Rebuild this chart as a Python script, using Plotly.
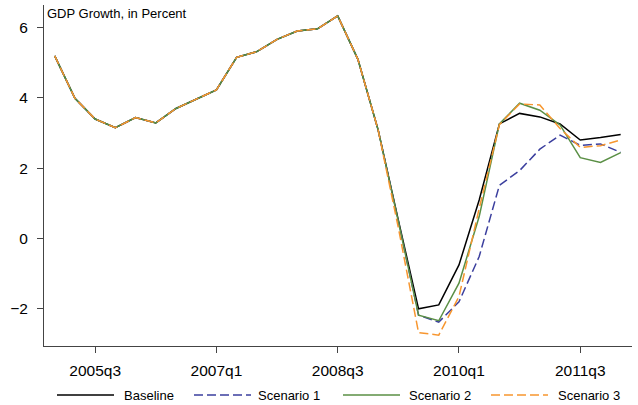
import plotly.graph_objects as go

quarters = [
    "2005q1", "2005q2", "2005q3", "2005q4",
    "2006q1", "2006q2", "2006q3", "2006q4",
    "2007q1", "2007q2", "2007q3", "2007q4",
    "2008q1", "2008q2", "2008q3", "2008q4",
    "2009q1", "2009q2", "2009q3", "2009q4",
    "2010q1", "2010q2", "2010q3", "2010q4",
    "2011q1", "2011q2", "2011q3", "2011q4",
    "2012q1",
]

common = [5.20, 3.99, 3.40, 3.15, 3.44, 3.29, 3.70, 3.97, 4.23, 5.16,
          5.32, 5.67, 5.91, 5.97, 6.34, 5.10, 3.09]

baseline = common + [0.52, -2.01, -1.90, -0.76, 1.09, 3.26, 3.56, 3.46, 3.26, 2.80, 2.87, 2.96]
scenario1 = common + [0.48, -2.19, -2.39, -1.81, -0.52, 1.51, 1.93, 2.54, 2.94, 2.65, 2.69, 2.45]
scenario2 = common + [0.48, -2.19, -2.35, -1.28, 0.62, 3.26, 3.85, 3.65, 3.23, 2.30, 2.16, 2.44]
scenario3 = common + [0.30, -2.69, -2.76, -1.66, 0.85, 3.24, 3.83, 3.80, 3.13, 2.59, 2.64, 2.80]

tick_labels = ["2005q3", "2007q1", "2008q3", "2010q1", "2011q3"]
y_ticks = [-2, 0, 2, 4, 6]

series_names = ["Baseline", "Scenario 1", "Scenario 2", "Scenario 3"]
series_values = [baseline, scenario1, scenario2, scenario3]
colors = ["#000000", "#3b3f9e", "#5a8f45", "#f7962f"]
dashes = ["solid", "9px,4px", "solid", "9px,4px"]

FONT = "Liberation Sans, Arial, Helvetica, sans-serif"

fig = go.Figure()
for name, vals, col, d in zip(series_names, series_values, colors, dashes):
    fig.add_trace(go.Scatter(
        x=quarters, y=vals, mode="lines", name=name,
        line=dict(color=col, width=1.5, dash=d),
        showlegend=False,
    ))

# plot area geometry (pixels) for the hand-made legend and title
W, H = 638, 405
ML, MR, MT, MB = 44, 6, 5, 59
PW, PH = W - ML - MR, H - MT - MB


def px(x):
    return (x - ML) / PW


def py(y):
    return (H - MB - y) / PH


legend_line_x = [(57, 114), (194, 251), (343, 400), (491, 548)]
legend_text_x = [123, 257, 408, 557]
legend_y = 395

shapes = []
annotations = []
for (x0, x1), tx, name, col, d in zip(legend_line_x, legend_text_x, series_names, colors, dashes):
    shapes.append(dict(type="line", xref="paper", yref="paper",
                       x0=px(x0), x1=px(x1), y0=py(legend_y), y1=py(legend_y),
                       line=dict(color=col, width=1.5, dash=d)))
    annotations.append(dict(text=name, xref="paper", yref="paper",
                            x=px(tx), y=py(legend_y), xanchor="left", yanchor="middle",
                            showarrow=False, font=dict(family=FONT, size=13, color="#000"),
                            borderpad=0))

annotations.append(dict(text="GDP Growth, in Percent", xref="paper", yref="paper",
                        x=px(46), y=py(14), xanchor="left", yanchor="middle",
                        showarrow=False, borderpad=0,
                        font=dict(family=FONT, size=13, color="#000")))

fig.update_layout(
    width=W, height=H,
    margin=dict(l=ML, r=MR, t=MT, b=MB),
    paper_bgcolor="white", plot_bgcolor="white",
    font=dict(family=FONT, color="#000"),
    shapes=shapes, annotations=annotations,
    showlegend=False,
)
fig.update_xaxes(
    type="category", range=[-0.53, 28.56],
    tickmode="array", tickvals=tick_labels, ticktext=tick_labels,
    showgrid=False, zeroline=False,
    showline=True, linecolor="#444", linewidth=1,
    ticks="outside", ticklen=6, tickcolor="#444", tickwidth=1,
    tickfont=dict(family=FONT, size=15.5, color="#000"),
    ticklabelstandoff=4,
)
fig.update_yaxes(
    range=[-3.07, 6.65],
    tickmode="array", tickvals=y_ticks, ticktext=["\u22122", "0", "2", "4", "6"],
    showgrid=False, zeroline=False,
    showline=True, linecolor="#444", linewidth=1,
    ticks="outside", ticklen=6, tickcolor="#444", tickwidth=1,
    tickfont=dict(family=FONT, size=15.5, color="#000"),
    ticklabelstandoff=6,
)

fig.write_html("out.html")
